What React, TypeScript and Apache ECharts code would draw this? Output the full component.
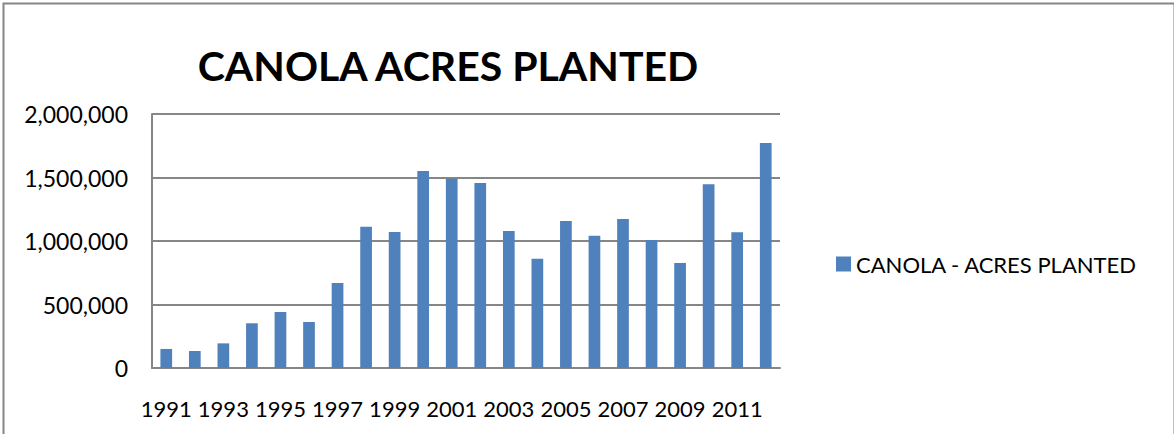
import React, { useEffect, useRef } from "react";
import * as echarts from "echarts";

const years = [
  "1991", "1992", "1993", "1994", "1995", "1996", "1997", "1998", "1999", "2000", "2001",
  "2002", "2003", "2004", "2005", "2006", "2007", "2008", "2009", "2010", "2011", "2012",
];
const acresPlanted = [
  150000, 134000, 194000, 352000, 441000, 362000, 669000, 1113000, 1071000, 1551000, 1491000,
  1457000, 1079000, 861000, 1157000, 1042000, 1173000, 1008000, 827000, 1446000, 1068000, 1772000,
];
const seriesName = "CANOLA - ACRES PLANTED";
const chartTitle = "CANOLA ACRES PLANTED";

export default function App() {
  const ref = useRef<HTMLDivElement>(null);
  useEffect(() => {
    if (!ref.current) return;
    const chart = echarts.init(ref.current, undefined, { renderer: "svg" });
    const font = "Lato, 'Open Sans', sans-serif";
    chart.setOption({
      animation: false,
      backgroundColor: "#ffffff",
      title: {
        text: chartTitle,
        left: 443,
        top: 40,
        textAlign: "center",
        textStyle: { fontFamily: font, fontSize: 41, fontWeight: "bold", color: "#000" },
      },
      legend: {
        data: [seriesName],
        left: 831,
        top: 248,
        itemWidth: 15,
        itemHeight: 15,
        itemGap: 6,
        icon: "rect",
        textStyle: { fontFamily: font, fontSize: 22, color: "#000" },
      },
      grid: { left: 152, right: 394, top: 114, bottom: 66, containLabel: false },
      xAxis: {
        type: "category",
        data: years,
        axisLine: { lineStyle: { color: "#868686", width: 2 } },
        axisTick: { show: false },
        axisLabel: {
          interval: 1,
          margin: 29,
          fontFamily: font,
          fontSize: 22,
          color: "#000",
        },
      },
      yAxis: {
        type: "value",
        min: 0,
        max: 2000000,
        interval: 500000,
        axisLine: { show: true, lineStyle: { color: "#868686", width: 2 } },
        axisTick: { show: false },
        splitLine: { lineStyle: { color: "#868686", width: 2 } },
        axisLabel: {
          margin: 24,
          fontFamily: font,
          fontSize: 23,
          color: "#000",
          formatter: (v: number) => v.toLocaleString("en-US"),
        },
      },
      series: [
        {
          name: seriesName,
          type: "bar",
          data: acresPlanted,
          barWidth: "41%",
          itemStyle: { color: "#4F81BD" },
        },
      ],
      graphic: [
        {
          type: "rect",
          left: 1,
          top: 1,
          shape: { x: 0, y: 0, width: 1171, height: 432 },
          style: { fill: "none", stroke: "#868686", lineWidth: 2 },
          silent: true,
        },
      ],
    });
    return () => chart.dispose();
  }, []);
  return (
    <div
      ref={ref}
      style={{ position: "absolute", left: 0, top: 0, width: 1174, height: 434 }}
    />
  );
}
